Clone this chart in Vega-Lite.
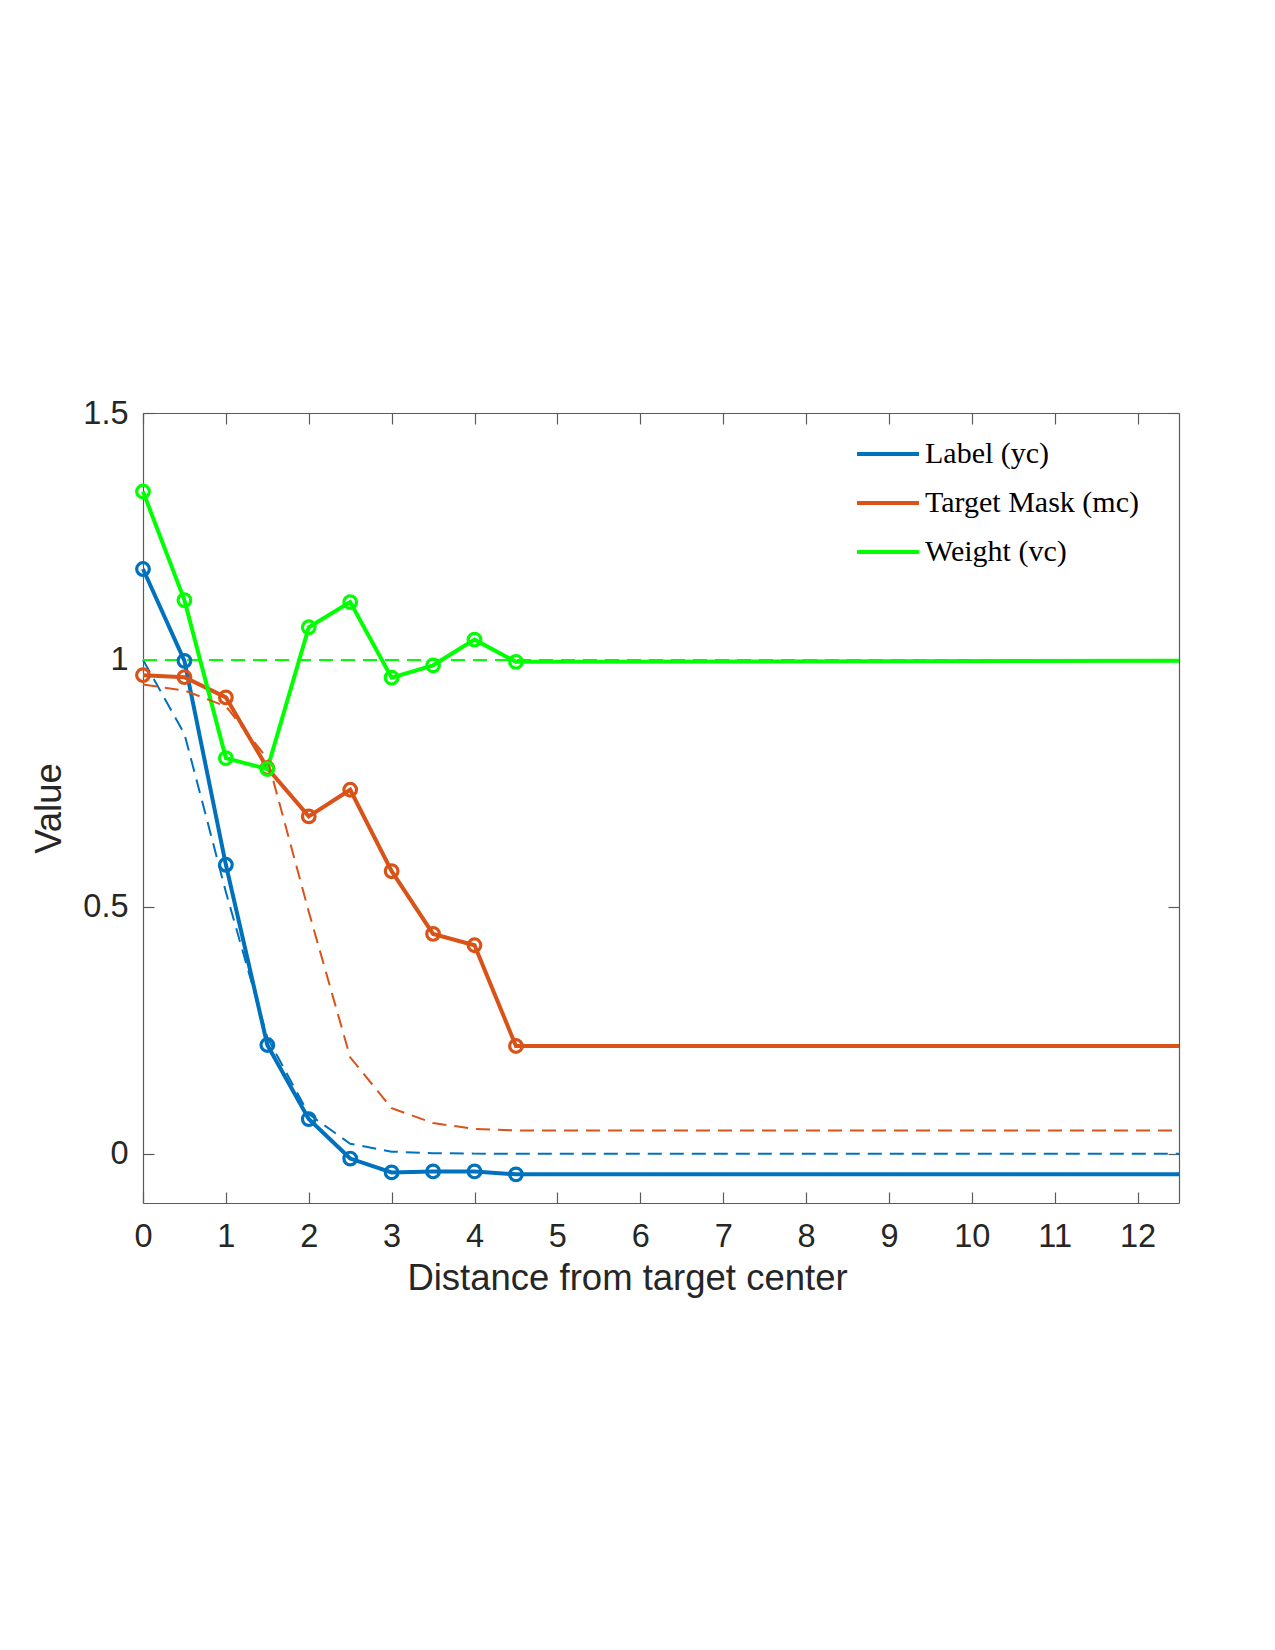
{
  "$schema": "https://vega.github.io/schema/vega-lite/v6.json",
  "autosize": {"type": "none"},
  "padding": {"left": 143, "top": 413, "right": 96, "bottom": 447},
  "width": 1036,
  "height": 790,
  "background": "white",
  "config": {
    "view": {"stroke": null},
    "axis": {
      "grid": false,
      "domainColor": "#5a5a5a",
      "tickColor": "#5a5a5a",
      "domainWidth": 1.2,
      "tickWidth": 1.2,
      "tickSize": -11,
      "labelFlush": false,
      "labelColor": "#262626",
      "titleColor": "#262626",
      "labelFont": "Liberation Sans",
      "titleFont": "Liberation Sans",
      "labelFontSize": 32.5,
      "titleFontSize": 36.5,
      "titleFontWeight": "normal"
    }
  },
  "data": {
    "values": [
      {"series": "Label (yc)", "kind": "solid", "x": 0, "y": 1.184},
      {"series": "Label (yc)", "kind": "solid", "x": 0.5, "y": 0.998},
      {"series": "Label (yc)", "kind": "solid", "x": 1, "y": 0.585},
      {"series": "Label (yc)", "kind": "solid", "x": 1.5, "y": 0.22},
      {"series": "Label (yc)", "kind": "solid", "x": 2, "y": 0.07},
      {"series": "Label (yc)", "kind": "solid", "x": 2.5, "y": -0.01},
      {"series": "Label (yc)", "kind": "solid", "x": 3, "y": -0.038},
      {"series": "Label (yc)", "kind": "solid", "x": 3.5, "y": -0.036},
      {"series": "Label (yc)", "kind": "solid", "x": 4, "y": -0.036},
      {"series": "Label (yc)", "kind": "solid", "x": 4.5, "y": -0.042},
      {"series": "Label (yc)", "kind": "solid", "x": 12.5, "y": -0.042},
      {"series": "Target Mask (mc)", "kind": "solid", "x": 0, "y": 0.969},
      {"series": "Target Mask (mc)", "kind": "solid", "x": 0.5, "y": 0.965},
      {"series": "Target Mask (mc)", "kind": "solid", "x": 1, "y": 0.924},
      {"series": "Target Mask (mc)", "kind": "solid", "x": 1.5, "y": 0.781},
      {"series": "Target Mask (mc)", "kind": "solid", "x": 2, "y": 0.683},
      {"series": "Target Mask (mc)", "kind": "solid", "x": 2.5, "y": 0.737},
      {"series": "Target Mask (mc)", "kind": "solid", "x": 3, "y": 0.572},
      {"series": "Target Mask (mc)", "kind": "solid", "x": 3.5, "y": 0.445},
      {"series": "Target Mask (mc)", "kind": "solid", "x": 4, "y": 0.422},
      {"series": "Target Mask (mc)", "kind": "solid", "x": 4.5, "y": 0.218},
      {"series": "Target Mask (mc)", "kind": "solid", "x": 12.5, "y": 0.218},
      {"series": "Weight (vc)", "kind": "solid", "x": 0, "y": 1.341},
      {"series": "Weight (vc)", "kind": "solid", "x": 0.5, "y": 1.121},
      {"series": "Weight (vc)", "kind": "solid", "x": 1, "y": 0.801},
      {"series": "Weight (vc)", "kind": "solid", "x": 1.5, "y": 0.779},
      {"series": "Weight (vc)", "kind": "solid", "x": 2, "y": 1.066},
      {"series": "Weight (vc)", "kind": "solid", "x": 2.5, "y": 1.117},
      {"series": "Weight (vc)", "kind": "solid", "x": 3, "y": 0.964},
      {"series": "Weight (vc)", "kind": "solid", "x": 3.5, "y": 0.989},
      {"series": "Weight (vc)", "kind": "solid", "x": 4, "y": 1.041},
      {"series": "Weight (vc)", "kind": "solid", "x": 4.5, "y": 0.996},
      {"series": "Weight (vc)", "kind": "solid", "x": 12.5, "y": 0.998},
      {"series": "Label (yc)", "kind": "dashed", "x": 0, "y": 1.0},
      {"series": "Label (yc)", "kind": "dashed", "x": 0.5, "y": 0.85},
      {"series": "Label (yc)", "kind": "dashed", "x": 1, "y": 0.53},
      {"series": "Label (yc)", "kind": "dashed", "x": 1.5, "y": 0.235},
      {"series": "Label (yc)", "kind": "dashed", "x": 2, "y": 0.08},
      {"series": "Label (yc)", "kind": "dashed", "x": 2.5, "y": 0.02},
      {"series": "Label (yc)", "kind": "dashed", "x": 3, "y": 0.004},
      {"series": "Label (yc)", "kind": "dashed", "x": 3.5, "y": 0.001},
      {"series": "Label (yc)", "kind": "dashed", "x": 4, "y": 0.0},
      {"series": "Label (yc)", "kind": "dashed", "x": 12.5, "y": 0.0},
      {"series": "Target Mask (mc)", "kind": "dashed", "x": 0, "y": 0.95},
      {"series": "Target Mask (mc)", "kind": "dashed", "x": 0.5, "y": 0.938},
      {"series": "Target Mask (mc)", "kind": "dashed", "x": 1, "y": 0.906},
      {"series": "Target Mask (mc)", "kind": "dashed", "x": 1.5, "y": 0.8},
      {"series": "Target Mask (mc)", "kind": "dashed", "x": 2, "y": 0.49},
      {"series": "Target Mask (mc)", "kind": "dashed", "x": 2.5, "y": 0.195},
      {"series": "Target Mask (mc)", "kind": "dashed", "x": 3, "y": 0.092},
      {"series": "Target Mask (mc)", "kind": "dashed", "x": 3.5, "y": 0.062},
      {"series": "Target Mask (mc)", "kind": "dashed", "x": 4, "y": 0.05},
      {"series": "Target Mask (mc)", "kind": "dashed", "x": 4.5, "y": 0.047},
      {"series": "Target Mask (mc)", "kind": "dashed", "x": 12.5, "y": 0.047},
      {"series": "Weight (vc)", "kind": "dashed", "x": 0, "y": 1.0},
      {"series": "Weight (vc)", "kind": "dashed", "x": 12.5, "y": 1.0}
    ]
  },
  "layer": [
    {
      "transform": [{"filter": "datum.kind === 'solid'"}],
      "mark": {"type": "line", "strokeWidth": 4},
      "encoding": {
        "x": {"field": "x", "type": "quantitative", "scale": {"domain": [0, 12.5], "nice": false, "zero": false},
          "axis": {"orient": "bottom", "title": "Distance from target center", "values": [0,1,2,3,4,5,6,7,8,9,10,11,12], "labelPadding": 28, "titlePadding": 8, "titleX": 484, "titleAlign": "center"}},
        "y": {"field": "y", "type": "quantitative", "scale": {"domain": [-0.1, 1.5], "nice": false, "zero": false},
          "axis": {"orient": "left", "title": "Value", "values": [0, 0.5, 1, 1.5], "format": ".1~f", "labelPadding": 26, "titlePadding": 14}},
        "color": {"field": "series", "type": "nominal",
          "scale": {"domain": ["Label (yc)", "Target Mask (mc)", "Weight (vc)"], "range": ["#0072BD", "#D95319", "#00FF00"]},
          "legend": {
            "title": null,
            "orient": "none",
            "legendX": 712,
            "legendY": 8,
            "padding": 0,
            "symbolType": "stroke",
            "symbolSize": 3844,
            "symbolStrokeWidth": 4,
            "symbolDash": [1, 0],
            "labelFont": "Liberation Serif",
            "labelFontSize": 30,
            "labelColor": "#000000",
            "labelOffset": 4,
            "labelLimit": 500,
            "rowPadding": 1
          }}
      }
    },
    {
      "transform": [{"filter": "datum.kind === 'dashed'"}],
      "mark": {"type": "line", "strokeWidth": 2, "strokeDash": [14, 8]},
      "encoding": {
        "x": {"field": "x", "type": "quantitative", "scale": {"domain": [0, 12.5], "nice": false, "zero": false},
          "axis": {"orient": "top", "labels": false, "title": null, "values": [0,1,2,3,4,5,6,7,8,9,10,11,12]}},
        "y": {"field": "y", "type": "quantitative", "scale": {"domain": [-0.1, 1.5], "nice": false, "zero": false},
          "axis": {"orient": "right", "labels": false, "title": null, "values": [0, 0.5, 1, 1.5]}},
        "color": {"field": "series", "type": "nominal",
          "scale": {"domain": ["Label (yc)", "Target Mask (mc)", "Weight (vc)"], "range": ["#0072BD", "#D95319", "#00FF00"]}}
      }
    },
    {
      "transform": [{"filter": "datum.kind === 'solid' && datum.x <= 4.5"}],
      "mark": {"type": "point", "shape": "circle", "filled": false, "size": 160, "strokeWidth": 3.2, "opacity": 1},
      "encoding": {
        "x": {"field": "x", "type": "quantitative", "scale": {"domain": [0, 12.5], "nice": false, "zero": false}, "axis": null},
        "y": {"field": "y", "type": "quantitative", "scale": {"domain": [-0.1, 1.5], "nice": false, "zero": false}, "axis": null},
        "color": {"field": "series", "type": "nominal",
          "scale": {"domain": ["Label (yc)", "Target Mask (mc)", "Weight (vc)"], "range": ["#0072BD", "#D95319", "#00FF00"]}}
      }
    }
  ]
}
